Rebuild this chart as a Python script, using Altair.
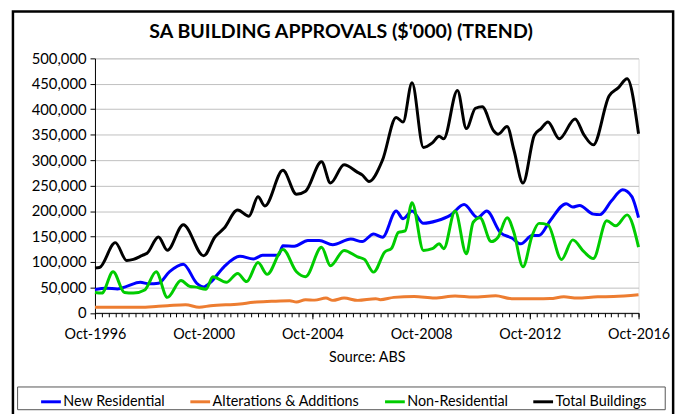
import altair as alt
import pandas as pd

series_names = ["New Residential", "Alterations & Additions", "Non-Residential", "Total Buildings"]
series_colors = ["#0000FF", "#ED7D31", "#00CC00", "#000000"]
chart_title = "SA BUILDING APPROVALS ($'000) (TREND)"

new_dates = ["1996-10","1997-03","1997-08","1997-12","1998-06","1998-10","1999-02","1999-07","2000-01","2000-07",
             "2000-10","2001-01","2001-07","2002-02","2002-08","2002-12","2003-07","2003-09","2004-02","2004-08",
             "2005-01","2005-07","2006-03","2006-08","2007-01","2007-05","2007-11","2008-02","2008-06","2008-11",
             "2009-05","2009-11","2010-05","2010-11","2011-03","2011-09","2012-02","2012-06","2012-11","2013-02",
             "2013-07","2014-02","2014-05","2014-08","2015-02","2015-05","2015-10","2016-03","2016-07","2016-10"]
new_vals = [46000,48500,47000,52000,60000,57000,58000,81000,95500,58000,
            51000,60000,90500,111000,106000,113000,113000,132000,131000,142000,
            142000,134000,145000,140000,155000,148600,200000,185000,200000,176000,
            181000,192000,213000,187000,200000,158000,147000,135700,151800,152000,
            181000,214500,208000,211000,194000,193000,219600,242000,229000,187000]

alt_dates = ["1996-10","1998-06","1999-02","1999-06","2000-02","2000-08","2001-01","2002-02","2002-08","2003-04",
             "2003-12","2004-03","2004-07","2004-11","2005-04","2005-07","2005-12","2006-06","2007-02","2007-04",
             "2007-10","2008-07","2009-04","2010-01","2010-09","2011-07","2012-02","2012-11","2013-07","2014-01",
             "2014-07","2015-04","2015-11","2016-10"]
alt_vals = [11000,11000,13000,14000,16000,11000,14000,17400,20700,22600,
            23900,21300,25800,25000,29000,24500,29000,24500,27800,25800,
            30400,32000,29000,33000,31000,33600,27800,27800,28000,31600,
            29000,31600,32000,35500]

non_dates = ["1996-10","1997-01","1997-06","1997-11","1998-03","1998-08","1999-01","1999-06","1999-12","2000-04",
             "2000-06","2000-11","2001-02","2001-08","2002-01","2002-05","2002-10","2003-02","2003-09","2004-03",
             "2004-07","2005-02","2005-06","2005-12","2006-06","2006-09","2007-01","2007-06","2007-09","2007-12",
             "2008-03","2008-06","2008-11","2009-03","2009-06","2009-08","2010-01","2010-06","2010-09","2010-12",
             "2011-05","2011-08","2011-12","2012-03","2012-07","2012-11","2013-02","2013-06","2013-12","2014-05",
             "2014-10","2015-02","2015-08","2015-12","2016-05","2016-10"]
non_vals = [40000,38800,80800,40000,38800,45000,80800,30400,63400,51700,
            51000,46500,71000,60000,77500,61400,98800,75600,124600,80800,
            71000,129000,92400,122700,110000,105000,80000,119600,127000,158000,
            161000,216500,122700,126000,135700,126000,200000,116000,178000,187000,
            140000,148600,187000,158000,90500,151800,175800,173000,105000,143400,
            119600,106600,181000,171000,192500,129000]

total_dates = ["1996-10","1996-12","1997-07","1997-12","1998-03","1998-07","1998-09","1999-02","1999-06","2000-01",
               "2000-10","2001-03","2001-07","2002-01","2002-06","2002-10","2003-01","2003-09","2004-03","2004-07",
               "2005-02","2005-06","2005-12","2006-06","2006-08","2006-11","2007-05","2007-11","2008-02","2008-06",
               "2008-11","2009-03","2009-06","2009-08","2010-02","2010-06","2010-10","2011-01","2011-06","2011-08",
               "2011-12","2012-03","2012-07","2012-12","2013-03","2013-06","2013-11","2014-06","2014-10","2015-02",
               "2015-09","2016-01","2016-05","2016-10"]
total_vals = [88000,89000,138000,103000,105000,113000,117000,149000,123000,173000,
              112000,149000,166000,202000,190000,228000,210000,280000,233000,239000,
              297000,255000,291000,276000,271000,258000,300000,384000,375000,452000,
              325000,334000,347000,342000,437000,362000,402000,405000,358000,351000,
              366000,320000,255000,349000,362000,375000,342000,381000,349000,330000,
              426000,442000,460000,352000]

y_ticks = [0, 50000, 100000, 150000, 200000, 250000, 300000, 350000, 400000, 450000, 500000]
major_years = [1996, 2000, 2004, 2008, 2012, 2016]

rows = []
for name, ds, vs in zip(series_names,
                        [new_dates, alt_dates, non_dates, total_dates],
                        [new_vals, alt_vals, non_vals, total_vals]):
    assert len(ds) == len(vs), name
    for d, v in zip(ds, vs):
        rows.append({"series": name, "date": d + "-01", "value": v})
df = pd.DataFrame(rows)

FONT = "Lato"
domain = [alt.DateTime(year=1996, month=10, date=1, utc=True),
          alt.DateTime(year=2016, month=10, date=1, utc=True)]
major_vals = [alt.DateTime(year=y, month=10, date=1, utc=True) for y in major_years]
minor_vals = []
for y in range(1996, 2017):
    for m in (1, 4, 7, 10):
        if (y == 1996 and m < 10) or (y == 2016 and m > 10):
            continue
        minor_vals.append(alt.DateTime(year=y, month=m, date=1, utc=True))

xscale = alt.Scale(type="utc", domain=domain)
yscale = alt.Scale(domain=[0, 500000])
color = alt.Color("series:N",
                  scale=alt.Scale(domain=series_names, range=series_colors),
                  sort=series_names,
                  legend=alt.Legend(orient="none", legendX=-56, legendY=336,
                                    direction="horizontal", title=None,
                                    symbolType="stroke", symbolSize=400,
                                    symbolStrokeWidth=3, labelFont=FONT,
                                    labelFontSize=14.5, labelColor="#000000",
                                    columnPadding=19, labelOffset=1, padding=0))

lines = alt.Chart(df).mark_line(strokeWidth=3, interpolate="monotone").encode(
    x=alt.X("date:T", scale=xscale,
            axis=alt.Axis(orient="bottom", values=major_vals,
                          labelExpr="utcFormat(datum.value, '%b-%Y')",
                          title="Source: ABS", titleFont=FONT, titleFontSize=14.5,
                          titleFontWeight="normal", titleColor="#000000",
                          titlePadding=10, labelFont=FONT, labelFontSize=14.5,
                          labelColor="#000000", labelPadding=9, tickSize=6,
                          tickColor="#000000", domainColor="#000000",
                          labelOverlap=False, labelFlush=False, grid=False)),
    y=alt.Y("value:Q", scale=yscale,
            axis=alt.Axis(values=y_ticks, format=",.0f", title=None,
                          labelFont=FONT, labelFontSize=15, labelColor="#000000",
                          labelPadding=4, tickSize=5, tickColor="#000000",
                          domainColor="#000000", gridColor="#bfbfbf", grid=True)),
    color=color,
    detail="series:N",
)

minor = alt.Chart(df).mark_point(opacity=0).encode(
    x=alt.X("date:T", scale=xscale,
            axis=alt.Axis(orient="bottom", values=minor_vals, labels=False, title=None,
                          tickSize=4, tickColor="#000000", domain=False, grid=False)),
)

one = pd.DataFrame({"title": [chart_title]})
frame = alt.Chart(one).mark_rect(fill=None, stroke="#000000", strokeWidth=2.5).encode(
    x=alt.value(-83), x2=alt.value(585), y=alt.value(-47.5), y2=alt.value(380))
legend_box = alt.Chart(one).mark_rect(fill=None, stroke="#555555", strokeWidth=1).encode(
    x=alt.value(-78.3), x2=alt.value(577), y=alt.value(332.5), y2=alt.value(355.5))
title_text = alt.Chart(one).mark_text(font=FONT, fontSize=19.8, fontWeight="bold",
                                      color="#000000", align="center",
                                      baseline="middle").encode(
    text="title:N", x=alt.value(249), y=alt.value(-27))

chart = alt.layer(frame, legend_box, title_text, minor, lines).resolve_axis(x="independent").properties(
    width=550, height=257.5,
    padding={"left": 88, "top": 48.5, "right": 46, "bottom": 110},
    autosize=alt.AutoSizeParams(type="none"),
).configure_view(stroke="#a6a6a6", strokeWidth=1).configure(background="white")

chart.save("out.html", embed_options={"renderer": "svg", "actions": False})
